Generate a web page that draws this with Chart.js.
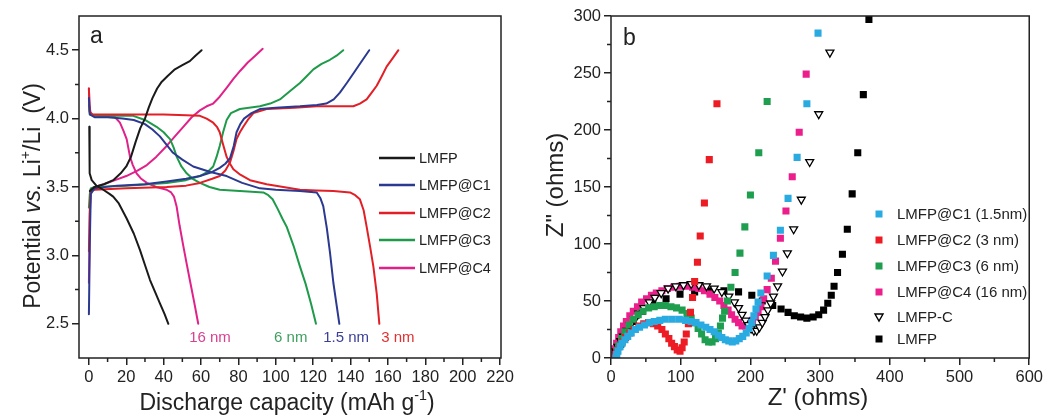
<!DOCTYPE html>
<html><head><meta charset="utf-8">
<script src="https://cdn.jsdelivr.net/npm/chart.js@4.4.0/dist/chart.umd.min.js"></script>
<style>
html,body{margin:0;padding:0;background:#fff;width:1046px;height:417px;overflow:hidden}
#wa{position:absolute;left:0;top:0;width:520px;height:417px}
#wb{position:absolute;left:520px;top:0;width:526px;height:417px}
</style>
</head><body>
<div id="wa"><canvas id="ca"></canvas></div>
<div id="wb"><canvas id="cb"></canvas></div>
<script>
// ---------------- Panel a data: [capacity (mAh/g), potential (V)] ----------------
const lmfpCharge = [[0.5,3.47],[3,3.50],[8,3.52],[13,3.55],[17,3.60],[20,3.65],[22.5,3.72],[25,3.83],[27.5,3.93],[30,4.00],[32,4.08],[34,4.15],[36.5,4.22],[39,4.27],[42,4.31],[46,4.36],[50,4.39],[54,4.42],[57,4.46],[60.3,4.50]];
const lmfpDischarge = [[0.2,3.94],[0.3,3.80],[0.5,3.60],[1.5,3.55],[4,3.51],[7.7,3.48],[11,3.45],[13,3.43],[16,3.38],[20.2,3.27],[24,3.16],[27.3,3.04],[30,2.93],[32.7,2.82],[35.5,2.73],[38,2.65],[40.5,2.57],[42.5,2.50]];
const c1Charge = [[0,2.57],[0.5,3.10],[1,3.45],[3,3.49],[15,3.51],[30,3.52],[41.6,3.54],[52,3.56],[59.4,3.58],[66,3.61],[70,3.64],[73,3.67],[75.5,3.71],[77.5,3.80],[79,3.90],[81,3.96],[83,4.00],[87,4.04],[91.5,4.07],[100,4.08],[112.9,4.09],[122,4.10],[127,4.11],[131,4.14],[134.3,4.19],[138,4.26],[141.5,4.33],[145.5,4.41],[150,4.50]];
const c1Discharge = [[0,4.15],[0.5,4.03],[3,4.01],[10,4.01],[18,4.00],[24,3.99],[30,3.96],[34,3.92],[38,3.87],[41.5,3.81],[45,3.75],[50,3.70],[55.8,3.65],[65,3.61],[73.7,3.58],[82,3.53],[91.5,3.49],[100,3.48],[112.9,3.47],[121.9,3.46],[123.8,3.42],[125.4,3.36],[127.3,3.20],[129,3.02],[130.8,2.80],[132.5,2.64],[134,2.50]];
const c2Charge = [[0,3.03],[0.5,3.35],[1,3.47],[3,3.48],[20,3.49],[41.6,3.50],[52,3.51],[59.4,3.53],[66,3.56],[70,3.58],[73,3.62],[75.5,3.68],[77.3,3.76],[79,3.85],[80.8,3.90],[82.6,3.94],[85,3.99],[88,4.04],[95.1,4.07],[110,4.08],[121.9,4.09],[135,4.09],[141.5,4.09],[145,4.11],[148.6,4.14],[151.3,4.19],[154,4.24],[156.7,4.31],[159.3,4.38],[162.5,4.44],[165.6,4.50]];
const c2Discharge = [[0,4.22],[0.4,4.05],[2,4.03],[20,4.03],[40,4.03],[52,4.025],[59.4,4.02],[63,4.00],[66.5,3.97],[68.5,3.94],[70,3.90],[71.8,3.81],[73.7,3.72],[75.5,3.67],[77.3,3.63],[81,3.59],[86.2,3.55],[95.1,3.52],[104,3.50],[112.9,3.48],[121.9,3.475],[130.8,3.47],[139.7,3.46],[142.5,3.44],[145,3.41],[147,3.33],[148.6,3.21],[150.5,3.06],[152.2,2.92],[154,2.72],[155.4,2.50]];
const c3Charge = [[0,3.35],[0.5,3.45],[1,3.49],[3,3.50],[20,3.51],[41.6,3.53],[52,3.55],[59.4,3.58],[63.5,3.61],[66.5,3.65],[68.3,3.72],[70,3.80],[71.8,3.90],[73.7,3.99],[76,4.04],[80.8,4.07],[91.5,4.09],[97,4.11],[102.2,4.14],[107.5,4.20],[112.9,4.26],[116.5,4.31],[120.1,4.36],[124.5,4.40],[129,4.43],[132.5,4.46],[136.1,4.50]];
const c3Discharge = [[0,4.10],[0.5,4.03],[3,4.02],[15,4.02],[23.7,4.02],[30,3.99],[36.2,3.94],[40,3.90],[43.4,3.85],[45.3,3.79],[47,3.72],[49.5,3.65],[52.3,3.60],[55.5,3.56],[59.4,3.53],[64.5,3.50],[70,3.48],[80.8,3.47],[93.3,3.46],[96,3.44],[98.3,3.41],[101,3.34],[103.5,3.27],[105.8,3.21],[109.5,3.07],[112.9,2.92],[116,2.79],[119,2.64],[121.5,2.50]];
const c4Charge = [[0,2.80],[0.5,3.30],[1,3.48],[3,3.50],[8,3.52],[14,3.55],[20,3.58],[26,3.62],[31,3.66],[36,3.72],[41.6,3.80],[46,3.87],[50.5,3.94],[55,4.01],[59.4,4.06],[63,4.09],[66.5,4.11],[70,4.16],[74,4.23],[77.3,4.29],[81,4.35],[85,4.41],[89,4.46],[93,4.51]];
const c4Discharge = [[0,4.22],[0.3,4.10],[1,4.03],[5,4.02],[10,4.02],[14,4.01],[16.6,3.97],[18.5,3.91],[20.2,3.85],[22,3.72],[23.5,3.66],[25.5,3.60],[28,3.56],[31,3.53],[36,3.50],[41.6,3.48],[44,3.46],[45.5,3.43],[46.9,3.36],[48.5,3.22],[50.5,3.07],[52.3,2.94],[54,2.82],[56.3,2.66],[58.5,2.50]];

const seriesNamesA = ['LMFP','LMFP@C1','LMFP@C2','LMFP@C3','LMFP@C4'];
const thicknessLabels = ['16 nm','6 nm','1.5 nm','3 nm'];
const thicknessCap = [64.8,108,137.6,165.3];
const thicknessV = [2.40,2.40,2.40,2.40];
const xTicksA = [0,20,40,60,80,100,120,140,160,180,200,220];
const xMinorA = [10,30,50,70,90,110,130,150,170,190,210];
const yTicksA = [2.5,3.0,3.5,4.0,4.5];
const yMinorA = [2.75,3.25,3.75,4.25];

// ---------------- Panel b data: [Z' (ohm), Z'' (ohm)] ----------------
const zC1 = [[7,0],[8,3],[10,6],[13,10],[16,13],[20,16],[24,19],[29,22],[35,25],[41,27],[48,29],[55,31],[62,32],[70,33],[78,34],[88,34],[98,34],[107,33],[115,32],[122,31],[129,29],[136,27],[142,25],[148,23],[154,20],[159,18],[164,16],[169,15],[174,14],[179,15],[184,17],[189,19],[194,22],[198,26],[202,31],[205,37],[208,43],[211,49],[215,57],[224,72],[233,90],[243,112],[254,140],[267,176],[281,223],[297,285]];
const zC2 = [[5,1],[8,5],[12,10],[16,14],[21,18],[27,22],[33,25],[40,28],[47,30],[54,31],[61,30],[67,28],[73,25],[78,21],[83,17],[87,13],[91,10],[95,7],[99,6],[102,9],[105,14],[108,21],[111,30],[114,40],[117,53],[120,67],[124,84],[128,107],[134,136],[141,174],[152,223]];
const zC3 = [[5,1],[8,6],[11,11],[15,17],[20,23],[26,29],[32,34],[39,38],[46,41],[54,44],[62,45],[70,46],[78,46],[86,45],[94,44],[102,42],[109,39],[115,35],[120,31],[125,26],[130,21],[135,16],[140,14],[145,14],[150,17],[154,22],[157,28],[160,35],[163,41],[167,50],[172,62],[178,75],[185,92],[192,115],[200,143],[212,180],[224,225]];
const zC4 = [[3,3],[5,8],[8,13],[11,18],[14,23],[18,28],[22,32],[27,37],[32,41],[38,45],[44,49],[51,52],[58,55],[65,57],[73,59],[81,61],[90,62],[99,63],[108,63],[117,62],[126,61],[134,59],[142,56],[149,53],[156,50],[162,46],[168,42],[173,38],[178,34],[183,31],[188,28],[193,28],[198,30],[203,33],[207,36],[211,40],[215,45],[219,52],[224,60],[230,70],[236,85],[243,105],[251,129],[260,159],[270,198],[280,249]];
const zLMFPC = [[4,2],[7,6],[10,10],[14,15],[18,19],[23,24],[28,29],[34,34],[40,39],[47,44],[55,49],[63,53],[72,57],[82,61],[93,63],[104,64],[115,65],[126,64],[137,63],[148,61],[159,58],[169,54],[177,49],[183,44],[188,38],[193,33],[197,29],[201,26],[205,24],[209,24],[213,27],[217,31],[221,36],[225,42],[229,48],[233,54],[239,63],[246,76],[253,92],[262,113],[273,139],[285,172],[298,214],[314,268]];
const zLMFP = [[8,3],[14,12],[22,22],[32,32],[45,41],[60,48],[79,52],[99,56],[120,58],[141,59],[162,59],[183,58],[202,55],[217,50],[232,46],[244,43],[254,40],[263,37],[272,36],[281,35],[290,36],[298,38],[305,42],[311,48],[316,55],[320,63],[325,75],[332,91],[339,113],[346,144],[354,180],[362,231],[370,297]];

const seriesNamesB = ['LMFP@C1 (1.5nm)','LMFP@C2 (3 nm)','LMFP@C3 (6 nm)','LMFP@C4 (16 nm)','LMFP-C','LMFP'];
const xTicksB = [0,100,200,300,400,500,600];
const xMinorB = [50,150,250,350,450,550];
const yTicksB = [0,50,100,150,200,250,300];
const yMinorB = [25,75,125,175,225,275];

// ---------------- helpers ----------------
const FONT = '"Liberation Sans", Arial, Helvetica, sans-serif';
const INK = '#222';
const toXY = arr => arr.map(p => ({x: p[0], y: p[1]}));

function segFont(s, size){ const sz = s.sup ? size*0.62 : size; return (s.italic ? 'italic ' : '') + sz + 'px ' + FONT; }
function drawRich(ctx, segs, cx, cy, size, rot){
  ctx.save(); ctx.translate(cx, cy); if (rot) ctx.rotate(rot);
  let total = 0;
  segs.forEach(s => { ctx.font = segFont(s, size); s.w = ctx.measureText(s.t).width; total += s.w; });
  let x = -total/2; ctx.textAlign = 'left'; ctx.textBaseline = 'alphabetic'; ctx.fillStyle = INK;
  const base = size*0.36;
  segs.forEach(s => { ctx.font = segFont(s, size); ctx.fillText(s.t, x, base - (s.sup ? size*0.45 : 0)); x += s.w; });
  ctx.restore();
}
function drawFrameAndMinor(chart, xMinor, yMinor){
  const {ctx, chartArea: a, scales} = chart;
  ctx.save();
  ctx.strokeStyle = INK; ctx.lineWidth = 1.5;
  ctx.strokeRect(a.left, a.top, a.right - a.left, a.bottom - a.top);
  ctx.beginPath();
  xMinor.forEach(v => { const p = scales.x.getPixelForValue(v); ctx.moveTo(p, a.bottom); ctx.lineTo(p, a.bottom + 4); });
  yMinor.forEach(v => { const p = scales.y.getPixelForValue(v); ctx.moveTo(a.left, p); ctx.lineTo(a.left - 4, p); });
  ctx.stroke();
  ctx.restore();
}
function axisOpts(min, max, ticksArr, fmt){
  return {
    type: 'linear', min: min, max: max,
    afterBuildTicks: s => { s.ticks = ticksArr.map(v => ({value: v})); },
    grid: {drawOnChartArea: false, drawTicks: true, tickLength: 7, color: INK, lineWidth: 1.5},
    border: {display: false},
    ticks: {font: {family: FONT, size: 16.5}, color: INK, padding: 3, maxRotation: 0, autoSkip: false, callback: fmt}
  };
}

Chart.defaults.animation = false;

// ---------------- Chart a ----------------
const colA = ['#1a1a1a','#2b3990','#e21f26','#1f9a4a','#e0218a'];
const annoColA = ['#d9418f','#3f9f5f','#3b3f96','#e03030'];
const curvesA = [[lmfpCharge,lmfpDischarge],[c1Charge,c1Discharge],[c2Charge,c2Discharge],[c3Charge,c3Discharge],[c4Charge,c4Discharge]];
const dsA = [];
curvesA.forEach((pair, i) => pair.forEach(c => dsA.push({
  label: seriesNamesA[i], data: toXY(c), borderColor: colA[i], borderWidth: 2, pointRadius: 0, tension: 0, fill: false,
  borderJoinStyle: 'round', borderCapStyle: 'round'
})));

const pluginA = {
  id: 'decorA',
  afterDraw(chart){
    const {ctx, scales} = chart;
    drawFrameAndMinor(chart, xMinorA, yMinorA);
    ctx.save();
    ctx.font = '23px ' + FONT; ctx.fillStyle = INK; ctx.textAlign = 'left'; ctx.textBaseline = 'alphabetic';
    ctx.fillText('a', 90, 43);
    ctx.font = '14.5px ' + FONT; ctx.textBaseline = 'middle';
    const rows = [158,185,213,240,268];
    seriesNamesA.forEach((n, i) => {
      ctx.strokeStyle = colA[i]; ctx.lineWidth = 2.5;
      ctx.beginPath(); ctx.moveTo(379, rows[i]); ctx.lineTo(415, rows[i]); ctx.stroke();
      ctx.fillStyle = INK; ctx.fillText(n, 419, rows[i] + 1);
    });
    ctx.font = '15px ' + FONT; ctx.textAlign = 'center';
    thicknessLabels.forEach((t, i) => {
      ctx.fillStyle = annoColA[i];
      ctx.fillText(t, scales.x.getPixelForValue(thicknessCap[i]), scales.y.getPixelForValue(thicknessV[i]));
    });
    ctx.restore();
    drawRich(ctx, [{t:'Discharge capacity (mAh g'},{t:'-1', sup:true},{t:')'}], 287, 402, 23, 0);
    drawRich(ctx, [{t:'Potential '},{t:'vs.', italic:true},{t:' Li'},{t:'+', sup:true},{t:'/Li  (V)'}], 32, 196, 23, -Math.PI/2);
  }
};

new Chart(document.getElementById('ca'), {
  type: 'line',
  data: {datasets: dsA},
  options: {
    responsive: true, maintainAspectRatio: false,
    layout: {padding: {left: 0, top: 16, right: 19, bottom: 0}},
    plugins: {legend: {display: false}, tooltip: {enabled: false}},
    scales: {
      x: Object.assign(axisOpts(-5.3, 220.5, xTicksA, v => String(v)), {afterFit: s => { s.height = 59; }}),
      y: Object.assign(axisOpts(2.25, 4.75, yTicksA, v => v.toFixed(1)), {afterFit: s => { s.width = 79; }})
    }
  },
  plugins: [pluginA]
});

// ---------------- Chart b ----------------
const colB = ['#29abe2','#ed1c24','#1f9e50','#ec1e8c','#000000','#000000'];
const seriesB = [zC1, zC2, zC3, zC4, zLMFPC, zLMFP];
const drawOrderB = [1,2,3,5,4,6];
const dsB = seriesB.map((s, i) => {
  const tri = i === 4;
  return {
    label: seriesNamesB[i], data: toXY(s), order: drawOrderB[i],
    pointStyle: tri ? 'triangle' : 'rect', rotation: tri ? 180 : 0,
    pointRadius: tri ? 4.6 : 5, pointHoverRadius: 5,
    backgroundColor: tri ? '#ffffff' : colB[i], borderColor: colB[i], borderWidth: tri ? 1.3 : 0,
    showLine: false
  };
});

const pluginB = {
  id: 'decorB',
  afterDraw(chart){
    const {ctx} = chart;
    drawFrameAndMinor(chart, xMinorB, yMinorB);
    ctx.save();
    ctx.font = '23px ' + FONT; ctx.fillStyle = INK; ctx.textAlign = 'left'; ctx.textBaseline = 'alphabetic';
    ctx.fillText('b', 103, 45);
    ctx.font = '15px ' + FONT; ctx.textBaseline = 'middle';
    const rows = [214,240,266,292,317,339];
    const mx = 359;
    seriesNamesB.forEach((n, i) => {
      const y = rows[i];
      if (i === 4) {
        ctx.strokeStyle = '#000'; ctx.lineWidth = 1.4; ctx.fillStyle = '#fff';
        ctx.beginPath(); ctx.moveTo(mx - 4, y - 3); ctx.lineTo(mx + 4, y - 3); ctx.lineTo(mx, y + 4); ctx.closePath();
        ctx.fill(); ctx.stroke();
      } else {
        ctx.fillStyle = colB[i]; ctx.fillRect(mx - 3.5, y - 3.5, 7, 7);
      }
      ctx.fillStyle = INK; ctx.fillText(n, 377, y + 1);
    });
    ctx.restore();
    drawRich(ctx, [{t:"Z' (ohms)"}], 298, 396, 24, 0);
    drawRich(ctx, [{t:'Z" (ohms)'}], 34, 185, 24, -Math.PI/2);
  }
};

new Chart(document.getElementById('cb'), {
  type: 'scatter',
  data: {datasets: dsB},
  options: {
    responsive: true, maintainAspectRatio: false,
    layout: {padding: {left: 0, top: 16, right: 16, bottom: 0}},
    plugins: {legend: {display: false}, tooltip: {enabled: false}},
    scales: {
      x: Object.assign(axisOpts(0, 600, xTicksB, v => String(v)), {afterFit: s => { s.height = 59; }}),
      y: Object.assign(axisOpts(0, 300, yTicksB, v => String(v)), {afterFit: s => { s.width = 91; }})
    }
  },
  plugins: [pluginB]
});
</script>
</body></html>
